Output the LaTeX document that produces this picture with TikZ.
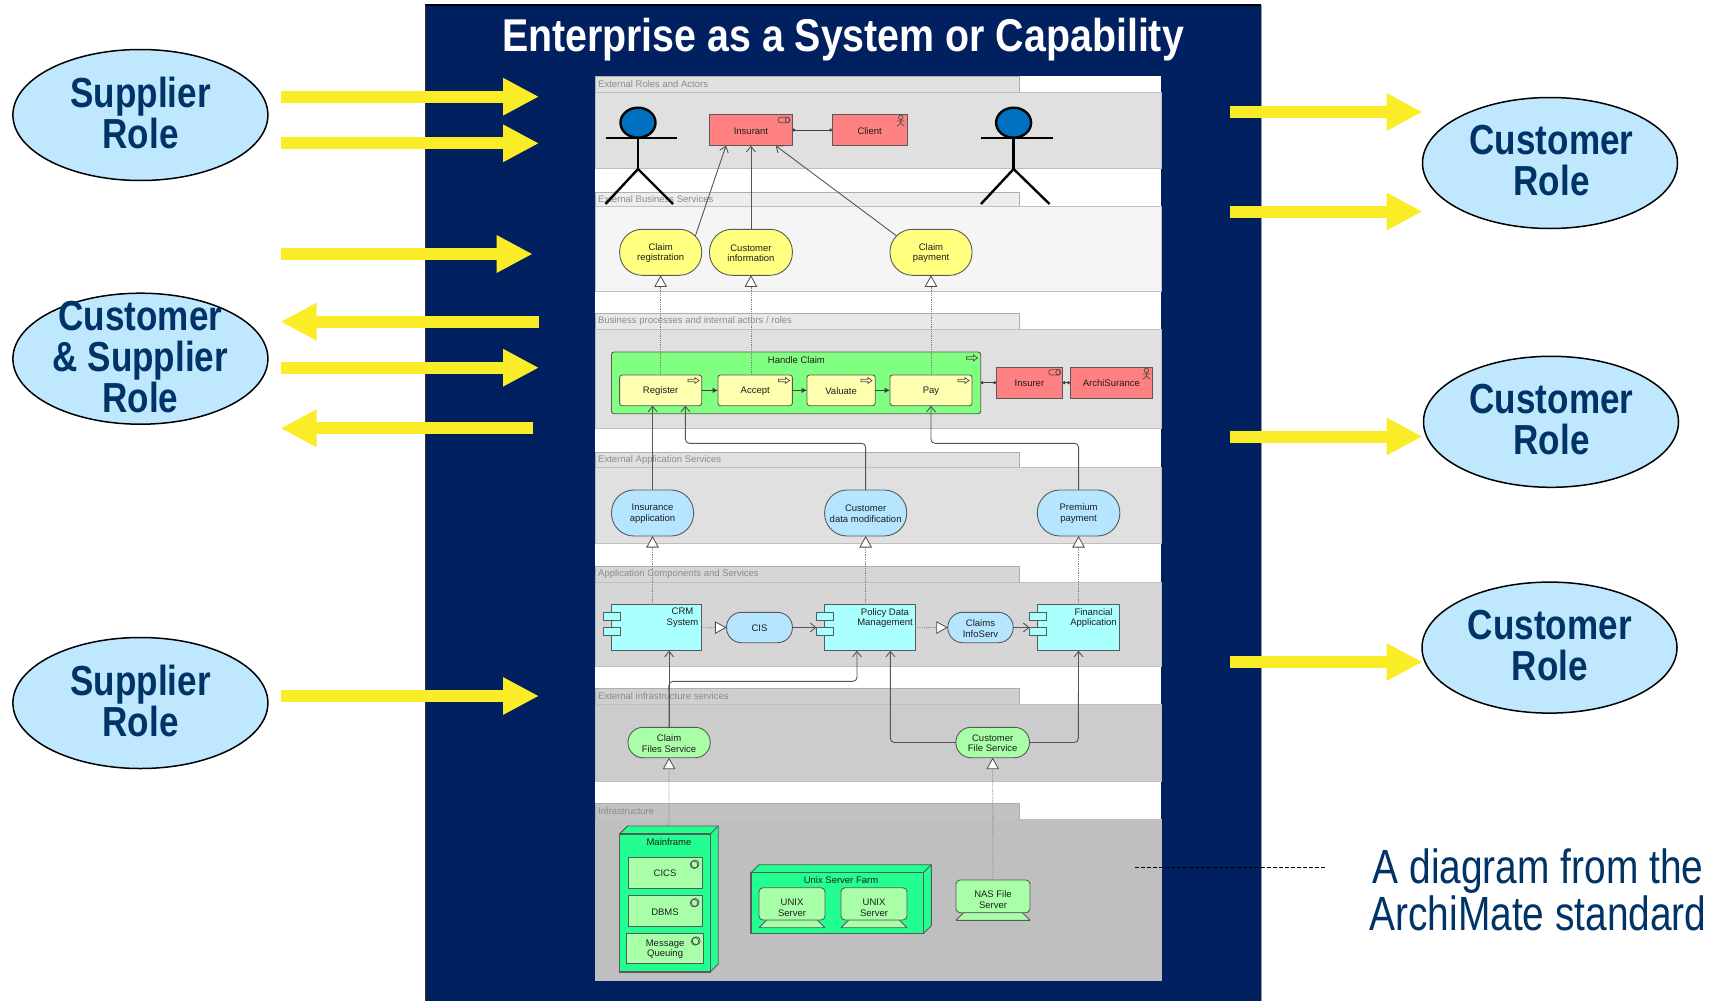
\documentclass[tikz,border=0pt]{standalone}
\usepackage{fontspec}
\setmainfont{Liberation Sans}
\newfontfamily\narrowB[FakeStretch=0.835]{Liberation Sans}
\newfontfamily\narrowT[FakeStretch=0.855]{Liberation Sans}
\newfontfamily\narrowN[FakeStretch=0.81]{Liberation Sans}
\usetikzlibrary{arrows.meta,shapes.geometric,calc}
\definecolor{navy}{HTML}{002060}
\definecolor{rolefill}{HTML}{BFE8FF}
\definecolor{roletext}{HTML}{003366}
\definecolor{yel}{HTML}{FBEC28}
\definecolor{redbox}{HTML}{FF8080}
\definecolor{svcyel}{HTML}{FFFF80}
\definecolor{procyel}{HTML}{FFFFB0}
\definecolor{grn}{HTML}{80FF80}
\definecolor{appblue}{HTML}{B5E5FF}
\definecolor{cyanbox}{HTML}{AAFFFF}
\definecolor{lgreen}{HTML}{A8FFA8}
\definecolor{nodegreen}{HTML}{22FF90}
\definecolor{edge}{HTML}{555555}
\definecolor{headblue}{HTML}{0070C0}
\tikzset{
  box/.style={draw=#1,line width=0.9pt,inner sep=0pt,outer sep=0pt},
  box/.default={black!65},
  pill/.style={rounded corners=#1},
  pill/.default=22.5pt,
  soft/.style={rounded corners=2.5pt},
  lanetext/.style={inner sep=0pt,anchor=west,text=black!45,font=\fontsize{9.5}{11}\selectfont},
  smalltext/.style={inner sep=0pt,align=center,text=black!88,font=\fontsize{9.5}{10.7}\selectfont},
  rolenode/.style={ellipse,draw=black,line width=1.5pt,fill=rolefill,minimum width=255pt,minimum height=131pt,inner sep=0pt,outer sep=0pt},
  roletxt/.style={inner sep=0pt,align=center,text=roletext,font=\narrowB\bfseries\fontsize{42}{41}\selectfont},
  yarrowline/.style={draw=yel,line width=12pt,-{Triangle[length=36pt,width=35pt,fill=yel]}},
  assoc/.style={draw=black!75,line width=0.8pt,{Circle[length=3pt]}-{Circle[length=3pt]}},
  trig/.style={draw=black!75,line width=0.8pt,-{Latex[length=5.5pt,width=5.5pt]}},
  serve/.style={draw=edge,line width=0.9pt,rounded corners=4pt,-{Straight Barb[length=5.5pt,width=9pt]}},
  real/.style={draw=black!50,line width=0.8pt,densely dotted,-{Triangle[open,fill=white,color=black!70,length=11.5pt,width=12.5pt,line width=0.8pt]}},
  icon/.style={draw=black!70,line width=0.7pt},
  stick/.style={draw=black,line width=2.4pt},
}
\newcommand\bx[7]{\pgfmathsetmacro\bxw{#4-#2}\pgfmathsetmacro\bxh{#5-#3}%
  \node[box,#6,minimum width=\bxw pt,minimum height=\bxh pt] (#1) at ({(#2+#4)/2},{(#3+#5)/2}) {};%
  \if\relax\detokenize{#7}\relax\else\node[smalltext] (#1t) at ([yshift=-0.8pt]#1.center) {#7};\fi}
\newcommand\lane[7]{% name tabtop mid bot tabfill bodyfill label
  \draw[draw=black!32,line width=0.8pt,fill=#5] (595,#2) rectangle (1019,#3);
  \draw[draw=black!25,line width=0.8pt,fill=#6] (595,#3) rectangle (1161,#4);
  \node[lanetext] (#1) at (598,{(#2+#3)/2+0.5}) {#7};}
\newcommand\yarr[4]{\coordinate (#1a) at (#2,#4);\coordinate (#1b) at (#3,#4);\draw[yarrowline] (#1a) -- (#1b);}
\newcommand\rolesym[2]{\begin{scope}[shift={(#1,#2)}]\draw[icon,rounded corners=2.6pt] (-6,-2.7) rectangle (6,2.7);\draw[icon] (3.4,0) ellipse [x radius=2.2,y radius=2.7];\end{scope}}
\newcommand\actsym[2]{\begin{scope}[shift={(#1,#2)}]\draw[icon] (0,-3.6) circle (2.2);\draw[icon] (0,-1.4)--(0,2) (-3.6,0)--(3.6,0) (-3.6,5.3)--(0,2)--(3.6,5.3);\end{scope}}
\newcommand\procsym[2]{\begin{scope}[shift={(#1,#2)}]\draw[icon] (-5.5,-1.2)--(1.5,-1.2)--(1.5,-2.9)--(5.5,0)--(1.5,2.9)--(1.5,1.2)--(-5.5,1.2)--cycle;\end{scope}}
\newcommand\syssym[2]{\begin{scope}[shift={(#1,#2)}]\draw[icon] (0.8,-0.3) circle (4);\draw[icon] (-0.3,0.4) circle (3.8);\end{scope}}
\newcommand\tabs[3]{\draw[box,fill=cyanbox] (#1,#2) rectangle ({#1+17},{#2+7.7});\draw[box,fill=cyanbox] (#1,{#2+15}) rectangle ({#1+17},{#2+22.7});\node[inner sep=0pt] (#3) at ({#1+8.5},{#2+11}) {};}
\newcommand\cube[6]{% name x1 y1 x2 y2 depth
  \draw[box,fill=nodegreen,line join=round] (#2,#3) -- ++(#6,-#6) -- ({#4+#6},{#3-#6}) -- ({#4+#6},{#5-#6}) -- (#4,#5) -- (#4,#3) -- cycle;
  \draw[box] (#4,#3) -- ({#4+#6},{#3-#6});
  \bx{#1}{#2}{#3}{#4}{#5}{fill=nodegreen,line width=1.1pt}{}}
\newcommand\device[3]{% x1 x2 ybottom
  \draw[box,fill=lgreen,line join=round] (#1,#3) -- ({#1+8},{#3-8}) -- ({#2-8},{#3-8}) -- (#2,#3) -- cycle;}
\begin{document}
\begin{tikzpicture}[x=1pt,y=-1pt]
\useasboundingbox (0,0) rectangle (1711,1001);
% enterprise panel
\fill[navy] (425.5,5) rectangle (1261,1001);
\draw[black,line width=1.6pt] (425,5) -- (1261,5);
\draw[black!80,line width=0.8pt] (425.5,5) -- (425.5,1001);
\draw[black!40,line width=1pt] (1261,5) -- (1261,1001);
\node[inner sep=0pt,text=white,font=\narrowT\bfseries\fontsize{46}{50}\selectfont] (title) at (843,40) {Enterprise as a System or Capability};
% white diagram
\fill[white] (595,76) rectangle (1161,980);
\lane{l1}{76}{92}{168}{black!12}{black!12}{External Roles and Actors}
\lane{l2}{192}{206}{291}{black!7}{black!4}{External Business Services}
\lane{l3}{313}{329}{428}{black!9}{black!12}{Business processes and internal actors / roles}
\lane{l4}{452}{467}{543}{black!12}{black!12}{External Application Services}
\lane{l5}{566}{582}{666}{black!16}{black!16}{Application Components and Services}
\lane{l6}{688}{704}{781}{black!19}{black!20}{External infrastructure services}
\lane{l7}{803}{819}{980}{black!24}{black!25}{Infrastructure}
% business actors
\bx{ins}{709.5}{114.3}{792.4}{145.7}{fill=redbox}{Insurant}
\bx{cli}{832.3}{114.3}{907}{145.7}{fill=redbox}{Client}
\rolesym{784}{120}\actsym{900.7}{121}
\bx{cr}{619.6}{229.3}{701.7}{275.3}{fill=svcyel,pill}{Claim\\registration}
\bx{ci}{709.5}{229.3}{792.4}{275.3}{fill=svcyel,pill}{Customer\\information}
\bx{cp}{890}{229.3}{972}{275.3}{fill=svcyel,pill}{Claim\\payment}
\bx{hc}{611.5}{352}{980.7}{413.7}{fill=grn,soft}{}
\node[smalltext] (hct) at (796.4,360) {Handle Claim};
\procsym{972}{358}
\bx{reg}{619.6}{375}{701.7}{405.7}{fill=procyel,soft}{Register}
\bx{acc}{718}{375}{792.4}{405.7}{fill=procyel,soft}{Accept}
\bx{val}{807}{375}{875.2}{405.7}{fill=procyel,soft}{Valuate}
\bx{pay}{890}{375}{972}{405.7}{fill=procyel,soft}{Pay}
\procsym{693.5}{380.5}\procsym{784}{380.5}\procsym{866.5}{380.5}\procsym{963.5}{380.5}
\bx{isr}{996}{367}{1062.8}{398.3}{fill=redbox}{Insurer}
\bx{arc}{1070}{367}{1152.7}{398.3}{fill=redbox}{ArchiSurance}
\rolesym{1054.6}{372.3}\actsym{1146.5}{374}
% application
\bx{ia}{611.5}{490}{693.6}{536}{fill=appblue,pill}{Insurance\\application}
\bx{cdm}{824.6}{490}{906.7}{536}{fill=appblue,pill}{Customer\\data modification}
\bx{pp}{1037.3}{490}{1119.8}{536}{fill=appblue,pill}{Premium\\payment}
\bx{crm}{611.5}{604.7}{701.7}{650.7}{fill=cyanbox}{}
\bx{pdm}{824.6}{604.7}{915.2}{650.7}{fill=cyanbox}{}
\bx{fin}{1037.3}{604.7}{1119.8}{650.7}{fill=cyanbox}{}
\tabs{603.3}{612.3}{crmtab}\tabs{816.4}{612.3}{pdmtab}\tabs{1029.5}{612.3}{fintab}
\node[smalltext] (crmt) at (682.5,618) {CRM\\System};
\node[smalltext] (pdmt) at (885,618) {Policy Data\\Management};
\node[smalltext] (fint) at (1093.5,618) {Financial\\Application};
\bx{cis}{726.5}{612.3}{792.4}{642.7}{fill=appblue,pill=15pt}{CIS}
\bx{cif}{947.8}{612.3}{1013.2}{642.7}{fill=appblue,pill=15pt}{Claims\\InfoServ}
% infrastructure services
\bx{cfs}{628}{727.3}{710.2}{757.7}{fill=lgreen,pill=15pt}{Claim\\Files Service}
\bx{cus}{955.9}{727.3}{1029.5}{757.7}{fill=lgreen,pill=15pt}{Customer\\File Service}
% infrastructure
\cube{mf}{619.6}{834}{710.2}{972}{8}
\node[smalltext] (mft) at (669,842) {Mainframe};
\bx{cics}{628}{857.3}{702}{888}{fill=lgreen}{CICS}
\bx{dbms}{628}{895.7}{702}{926.3}{fill=lgreen}{DBMS}
\bx{mq}{626.6}{933.7}{703.6}{963.3}{fill=lgreen}{Message\\Queuing}
\syssym{694.3}{864.3}\syssym{694.3}{902.7}\syssym{695.4}{941}
\cube{uf}{751}{872.7}{923.3}{933.7}{8}
\node[smalltext] (uft) at (841,880) {Unix Server Farm};
\device{759}{825}{927.7}
\bx{us1}{759}{887.7}{825}{920}{fill=lgreen,rounded corners=4pt}{}
\node[smalltext] (us1t) at (792,908) {UNIX\\Server};
\device{841}{907}{927.7}
\bx{us2}{841}{887.7}{907}{920}{fill=lgreen,rounded corners=4pt}{}
\node[smalltext] (us2t) at (874,908) {UNIX\\Server};
\device{956}{1030}{920.3}
\bx{nas}{956}{880}{1030}{912.7}{fill=lgreen,rounded corners=4pt}{}
\node[smalltext] (nast) at (993,899.3) {NAS File\\Server};
% actors
\foreach \nm/\ax/\bl/\br/\al/\ar in {a/638/605.5/673/605.5/677,b/1013.6/981/1049.5/981/1052.5}{
  \node[ellipse,draw=black,line width=2.4pt,fill=headblue,minimum width=35pt,minimum height=30pt,inner sep=0pt,outer sep=0pt] (head\nm) at (\ax,122.7) {};
  \coordinate (hip\nm) at (\ax,169);
  \draw[stick] (head\nm.south) -- (hip\nm);
  \draw[stick] (\al,138) -- (\ar,138);
  \draw[stick] (\bl,204) -- (hip\nm) -- (\br,204);
}
% connectors
\coordinate (crA) at (695.4,235.7);\coordinate (insA) at (726,145.7);
\coordinate (cpA) at (896.3,235.7);\coordinate (insC) at (775.7,145.7);
\draw[assoc] (ins) -- (cli);
\draw[serve] (crA) -- (insA);
\draw[serve] (ci.north) -- (ins.south);
\draw[serve] (cpA) -- (insC);
\draw[real] (reg.north) -- (cr.south);
\draw[real] (ci.south |- acc.north) -- (ci.south);
\draw[real] (pay.north) -- (cp.south);
\draw[trig] (reg) -- (acc);\draw[trig] (acc) -- (val);\draw[trig] (val) -- (pay);
\draw[assoc] (hc.east |- isr.west) -- (isr.west);
\draw[assoc] (isr) -- (arc);
\coordinate (regB) at (685.4,405.7);
\draw[serve] (ia.north) -- (ia.north |- reg.south);
\draw[serve] (cdm.north) -- ++(0,-46.7) -- (685.4,443.3) -- (regB);
\draw[serve] (pp.north) -- ++(0,-46.7) -- (931,443.3) -- (pay.south);
\draw[real] (ia.south |- crm.north) -- (ia.south);
\draw[real] (cdm.south |- pdm.north) -- (cdm.south);
\draw[real] (pp.south |- fin.north) -- (pp.south);
\draw[real] (crm.east) -- (cis.west);
\draw[real] (pdm.east) -- (cif.west);
\coordinate (pdmW) at (816.4,627.5);\coordinate (finW) at (1029.5,627.5);
\draw[serve] (cis.east) -- (pdmW);
\draw[serve] (cif.east) -- (finW);
\coordinate (pdmA) at (857,650.7);\coordinate (pdmB) at (890.4,650.7);
\draw[serve] (cfs.north) -- (cfs.north |- crm.south);
\draw[serve] (cfs.north) -- (668.9,681.3) -- (857,681.3) -- (pdmA);
\draw[serve] (cus.west) -- (890.4,742.5) -- (pdmB);
\draw[serve] (cus.east) -- (1078.3,742.5) -- (fin.south);
\coordinate (mfTop) at (669,826.7);
\draw[real] (mfTop) -- (cfs.south);
\draw[real] (nas.north) -- (cus.south);
% role ellipses
\node[rolenode] (s1) at (140.4,115) {};
\node[roletxt] (s1t) at (140.6,112.5) {Supplier\\Role};
\node[rolenode] (cs) at (140.4,358.7) {};
\node[roletxt] (cst) at (140.4,357) {Customer\\\& Supplier\\Role};
\node[rolenode] (s2) at (140.4,703) {};
\node[roletxt] (s2t) at (140.6,700.5) {Supplier\\Role};
\node[rolenode] (c1) at (1550,163) {};
\node[roletxt] (c1t) at (1551.5,161) {Customer\\Role};
\node[rolenode] (c2) at (1551,421.8) {};
\node[roletxt] (c2t) at (1551.5,420) {Customer\\Role};
\node[rolenode] (c3) at (1549.5,647.6) {};
\node[roletxt] (c3t) at (1549.8,646) {Customer\\Role};
% yellow arrows
\yarr{u1}{280.5}{539}{96.7}
\yarr{u2}{280.5}{539}{143.3}
\yarr{u3}{280.5}{532.7}{254}
\yarr{u4}{539}{280.5}{321.7}
\yarr{u5}{280.5}{539}{367.7}
\yarr{u6}{532.7}{280.5}{428.3}
\yarr{u7}{280.5}{539}{696}
\yarr{v1}{1230}{1422.6}{112}
\yarr{v2}{1230}{1422.6}{211.5}
\yarr{v3}{1230}{1422.6}{436.5}
\yarr{v4}{1230}{1422.6}{662}
% note
\coordinate (dashA) at (1135,867.3);\coordinate (dashB) at (1324.6,867.3);
\draw[black,line width=1pt,dash pattern=on 4pt off 2pt] (dashA) -- (dashB);
\node[inner sep=0pt,align=center,text=roletext,font=\narrowN\fontsize{48}{47}\selectfont] (note) at (1538,890) {A diagram from the\\ArchiMate standard};
\end{tikzpicture}
\end{document}
